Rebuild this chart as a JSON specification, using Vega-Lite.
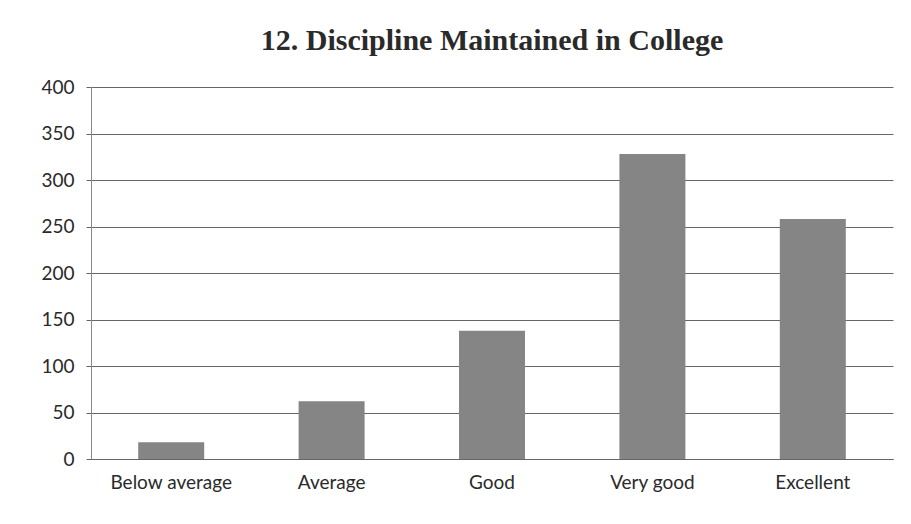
{
  "$schema": "https://vega.github.io/schema/vega-lite/v6.json",
  "width": 911,
  "height": 524,
  "autosize": {"type": "fit", "contains": "padding"},
  "padding": {"left": 40, "right": 18, "top": 26, "bottom": 32},
  "background": "white",
  "title": {
    "text": "12. Discipline Maintained in College",
    "font": "Liberation Serif",
    "fontSize": 30,
    "fontWeight": "bold",
    "color": "#2a2a2a",
    "offset": 22
  },
  "data": {
    "values": [
      {"category": "Below average", "value": 18},
      {"category": "Average", "value": 62},
      {"category": "Good", "value": 138},
      {"category": "Very good", "value": 328},
      {"category": "Excellent", "value": 258}
    ]
  },
  "mark": {"type": "bar", "color": "#858585", "width": 66},
  "encoding": {
    "x": {
      "field": "category",
      "type": "nominal",
      "sort": null,
      "title": null,
      "axis": {
        "labelAngle": 0,
        "labelFont": "Lato",
        "labelFontSize": 19,
        "labelColor": "#2a2a2a",
        "domainColor": "#666666",
        "ticks": false,
        "labelPadding": 14
      }
    },
    "y": {
      "field": "value",
      "type": "quantitative",
      "title": null,
      "scale": {"domain": [0, 400]},
      "axis": {
        "values": [0, 50, 100, 150, 200, 250, 300, 350, 400],
        "labelFont": "Lato",
        "labelFontSize": 19,
        "labelColor": "#2a2a2a",
        "gridColor": "#666666",
        "domainColor": "#888888",
        "tickColor": "#666666",
        "labelPadding": 12
      }
    }
  },
  "config": {
    "view": {"stroke": null}
  }
}
